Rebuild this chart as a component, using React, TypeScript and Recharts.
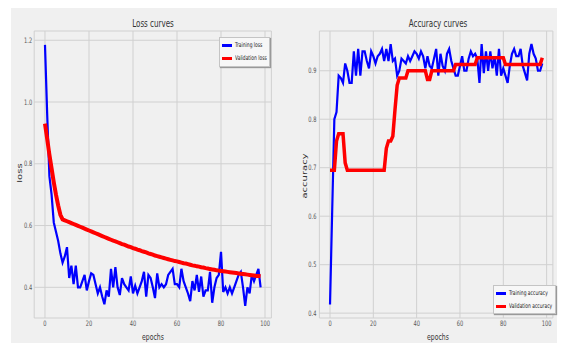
import React from "react";
import { LineChart, Line, XAxis, YAxis, CartesianGrid, Legend } from "recharts";

const FONT = "'DejaVu Sans', sans-serif";
const SQUEEZE = 0.68;

const epochs = Array.from({ length: 99 }, (_, i) => i);
const epochTicks = [0, 20, 40, 60, 80, 100];
const lossTicks = [0.4, 0.6, 0.8, 1.0, 1.2];
const accTicks = [0.4, 0.5, 0.6, 0.7, 0.8, 0.9];

const trainLoss = [
  1.185, 0.96, 0.76, 0.7, 0.61, 0.58, 0.55, 0.51, 0.48, 0.5,
  0.53, 0.43, 0.47, 0.41, 0.47, 0.4, 0.4, 0.42, 0.44, 0.39,
  0.42, 0.445, 0.44, 0.41, 0.38, 0.4, 0.37, 0.345, 0.39, 0.37,
  0.46, 0.4, 0.465, 0.4, 0.375, 0.43, 0.41, 0.4, 0.39, 0.435,
  0.38, 0.405, 0.38, 0.4, 0.42, 0.45, 0.37, 0.44, 0.43, 0.4,
  0.365, 0.445, 0.4, 0.41, 0.4, 0.41, 0.44, 0.45, 0.46, 0.41,
  0.41, 0.4, 0.46, 0.42, 0.4, 0.38, 0.355, 0.42, 0.39, 0.44,
  0.385, 0.435, 0.37, 0.39, 0.39, 0.45, 0.35, 0.4, 0.43, 0.44,
  0.515, 0.385, 0.4, 0.38, 0.4, 0.38, 0.4, 0.42, 0.44, 0.45,
  0.4, 0.34, 0.4, 0.38, 0.44, 0.42, 0.44, 0.46, 0.4,
];

const valLoss = [
  0.93, 0.88, 0.83, 0.785, 0.74, 0.7, 0.665, 0.635, 0.62, 0.617,
  0.614, 0.611, 0.608, 0.605, 0.602, 0.599, 0.596, 0.593, 0.59, 0.587,
  0.584, 0.581, 0.578, 0.575, 0.572, 0.569, 0.566, 0.563, 0.56, 0.557,
  0.554, 0.551, 0.549, 0.546, 0.543, 0.54, 0.538, 0.535, 0.532, 0.53,
  0.527, 0.525, 0.522, 0.52, 0.517, 0.515, 0.513, 0.51, 0.508, 0.506,
  0.503, 0.501, 0.499, 0.497, 0.495, 0.493, 0.491, 0.489, 0.487, 0.485,
  0.484, 0.482, 0.48, 0.478, 0.477, 0.475, 0.473, 0.471, 0.47, 0.468,
  0.467, 0.465, 0.464, 0.462, 0.461, 0.459, 0.458, 0.457, 0.455, 0.454,
  0.453, 0.452, 0.451, 0.45, 0.449, 0.448, 0.447, 0.446, 0.445, 0.444,
  0.443, 0.442, 0.441, 0.44, 0.439, 0.438, 0.437, 0.437, 0.436,
];

const trainAcc = [
  0.418, 0.61, 0.8, 0.815, 0.89, 0.885, 0.875, 0.915, 0.9, 0.875,
  0.875, 0.94, 0.89, 0.945, 0.89, 0.94, 0.94, 0.92, 0.905, 0.94,
  0.93, 0.915, 0.93, 0.935, 0.945, 0.92, 0.945, 0.92, 0.955, 0.92,
  0.925, 0.89, 0.9, 0.925, 0.92, 0.915, 0.93, 0.92, 0.93, 0.94,
  0.935, 0.925, 0.94, 0.93, 0.905, 0.93, 0.91, 0.905, 0.925, 0.945,
  0.89, 0.935, 0.91, 0.9, 0.935, 0.945, 0.92, 0.905, 0.89, 0.89,
  0.91, 0.93, 0.9, 0.9, 0.925, 0.94, 0.93, 0.935, 0.925, 0.875,
  0.955, 0.895, 0.94, 0.9, 0.94, 0.905, 0.93, 0.89, 0.945, 0.89,
  0.905, 0.89, 0.875, 0.91, 0.935, 0.945, 0.93, 0.93, 0.945, 0.91,
  0.895, 0.88, 0.935, 0.955, 0.935, 0.925, 0.9, 0.9, 0.915,
];

const valAcc = [
  0.695, 0.695, 0.695, 0.755, 0.77, 0.77, 0.77, 0.71, 0.695, 0.695,
  0.695, 0.695, 0.695, 0.695, 0.695, 0.695, 0.695, 0.695, 0.695, 0.695,
  0.695, 0.695, 0.695, 0.695, 0.695, 0.695, 0.74, 0.755, 0.755, 0.765,
  0.82, 0.87, 0.885, 0.885, 0.885, 0.885, 0.9, 0.9, 0.9, 0.9,
  0.9, 0.9, 0.9, 0.9, 0.9, 0.882, 0.882, 0.9, 0.9, 0.9,
  0.9, 0.9, 0.9, 0.9, 0.9, 0.9, 0.9, 0.9, 0.913, 0.913,
  0.913, 0.913, 0.913, 0.913, 0.913, 0.913, 0.913, 0.913, 0.927, 0.927,
  0.927, 0.927, 0.927, 0.927, 0.927, 0.927, 0.927, 0.927, 0.927, 0.927,
  0.927, 0.913, 0.913, 0.913, 0.913, 0.913, 0.913, 0.913, 0.913, 0.913,
  0.913, 0.913, 0.913, 0.913, 0.913, 0.913, 0.913, 0.913, 0.927,
];

const lossData = epochs.map((e, i) => ({ epoch: e, train: trainLoss[i], val: valLoss[i] }));
const accData = epochs.map((e, i) => ({ epoch: e, train: trainAcc[i], val: valAcc[i] }));

// the original figure is squashed sideways, so the text gets squeezed too
const XTick = (props: any) => {
  const { x, y, payload } = props;
  return (
    <g transform={`translate(${x},${y}) scale(${SQUEEZE},1)`}>
      <text x={0} y={0} dy="0.71em" textAnchor="middle" fontSize={7.5} fill="#555" fontFamily={FONT}>
        {String(payload.value)}
      </text>
    </g>
  );
};

const YTick = (props: any) => {
  const { x, y, payload } = props;
  return (
    <g transform={`translate(${x},${y}) scale(${SQUEEZE},1)`}>
      <text x={0} y={0} dy="0.355em" textAnchor="end" fontSize={7.5} fill="#555" fontFamily={FONT}>
        {Number(payload.value).toFixed(1)}
      </text>
    </g>
  );
};

function LegendBox({ items, w, h }: { items: { label: string; color: string }[]; w: number; h: number }) {
  return (
    <div
      style={{
        width: w,
        height: h,
        boxSizing: "border-box",
        background: "#f7f7f7",
        border: "1px solid #c4c4c4",
        boxShadow: "1px 1px 1px #999",
        paddingTop: 1,
        fontFamily: FONT,
        fontSize: 6.5,
        color: "#222",
      }}
    >
      {items.map((it) => (
        <div key={it.label} style={{ display: "flex", alignItems: "center", height: 12.7, paddingLeft: 2 }}>
          <span style={{ display: "inline-block", width: 10, height: 3, background: it.color, marginRight: 3, flex: "none" }} />
          <span style={{ whiteSpace: "nowrap", display: "inline-block", transform: `scaleX(${SQUEEZE})`, transformOrigin: "left center" }}>
            {it.label}
          </span>
        </div>
      ))}
    </div>
  );
}

const overlayText = (text: string, x: number, y: number, size: number, rotate = false) => (
  <div
    style={{
      position: "absolute",
      left: x,
      top: y,
      transform: rotate
        ? `translate(-50%, -50%) rotate(-90deg) scaleY(${SQUEEZE})`
        : `translate(-50%, -50%) scaleX(${SQUEEZE})`,
      fontFamily: FONT,
      fontSize: size,
      color: "#333",
      whiteSpace: "nowrap",
      lineHeight: 1,
    }}
  >
    {text}
  </div>
);

export default function App() {
  return (
    <div style={{ position: "absolute", left: 0, top: 0, width: 563, height: 343, background: "#fff", overflow: "hidden" }}>
      <div style={{ position: "absolute", left: 11, top: 8, width: 546, height: 335, background: "#f0f0f0" }} />

      <div style={{ position: "absolute", left: 0, top: 0 }}>
        <LineChart width={563} height={343} data={lossData} margin={{ top: 31, right: 291.6, bottom: 1, left: 4.2 }}>
          <CartesianGrid stroke="#d0d0d0" strokeWidth={1} />
          <XAxis
            type="number"
            dataKey="epoch"
            domain={[-4.9, 102.9]}
            ticks={epochTicks}
            allowDataOverflow
            axisLine={false}
            tickLine={false}
            tickSize={0}
            tickMargin={3}
            height={24}
            tick={<XTick />}
          />
          <YAxis
            type="number"
            domain={[0.3006, 1.23]}
            ticks={lossTicks}
            allowDataOverflow
            axisLine={false}
            tickLine={false}
            tickSize={0}
            tickMargin={2}
            width={30}
            tick={<YTick />}
          />
          <Line type="linear" dataKey="train" name="Training loss" stroke="#0000ff" strokeWidth={2.2} dot={false} isAnimationActive={false} />
          <Line type="linear" dataKey="val" name="Validation loss" stroke="#ff0000" strokeWidth={4} dot={false} isAnimationActive={false} />
          <Legend
            layout="vertical"
            align="center"
            verticalAlign="middle"
            wrapperStyle={{ left: 219, top: 37, width: 51, height: 30 }}
            content={() => (
              <LegendBox
                w={51}
                h={30}
                items={[
                  { label: "Training loss", color: "#0000ff" },
                  { label: "Validation loss", color: "#ff0000" },
                ]}
              />
            )}
          />
        </LineChart>
      </div>

      <div style={{ position: "absolute", left: 0, top: 0 }}>
        <LineChart width={563} height={343} data={accData} margin={{ top: 31, right: 10.1, bottom: 1, left: 289.4 }}>
          <CartesianGrid stroke="#d0d0d0" strokeWidth={1} />
          <XAxis
            type="number"
            dataKey="epoch"
            domain={[-4.9, 102.9]}
            ticks={epochTicks}
            allowDataOverflow
            axisLine={false}
            tickLine={false}
            tickSize={0}
            tickMargin={3}
            height={24}
            tick={<XTick />}
          />
          <YAxis
            type="number"
            domain={[0.39, 0.982]}
            ticks={accTicks}
            allowDataOverflow
            axisLine={false}
            tickLine={false}
            tickSize={0}
            tickMargin={3}
            width={30}
            tick={<YTick />}
          />
          <Line type="linear" dataKey="train" name="Training accuracy" stroke="#0000ff" strokeWidth={2.2} dot={false} isAnimationActive={false} />
          <Line type="linear" dataKey="val" name="Validation accuracy" stroke="#ff0000" strokeWidth={3.5} dot={false} isAnimationActive={false} />
          <Legend
            layout="vertical"
            align="center"
            verticalAlign="middle"
            wrapperStyle={{ left: 493, top: 285, width: 63, height: 29 }}
            content={() => (
              <LegendBox
                w={63}
                h={29}
                items={[
                  { label: "Training accuracy", color: "#0000ff" },
                  { label: "Validation accuracy", color: "#ff0000" },
                ]}
              />
            )}
          />
        </LineChart>
      </div>

      {overlayText("Loss curves", 153, 23, 10.5)}
      {overlayText("Accuracy curves", 438, 23, 10.5)}
      {overlayText("epochs", 153, 337, 9)}
      {overlayText("epochs", 438, 337, 9)}
      {overlayText("loss", 20, 173, 10, true)}
      {overlayText("accuracy", 305, 176, 10, true)}
    </div>
  );
}
